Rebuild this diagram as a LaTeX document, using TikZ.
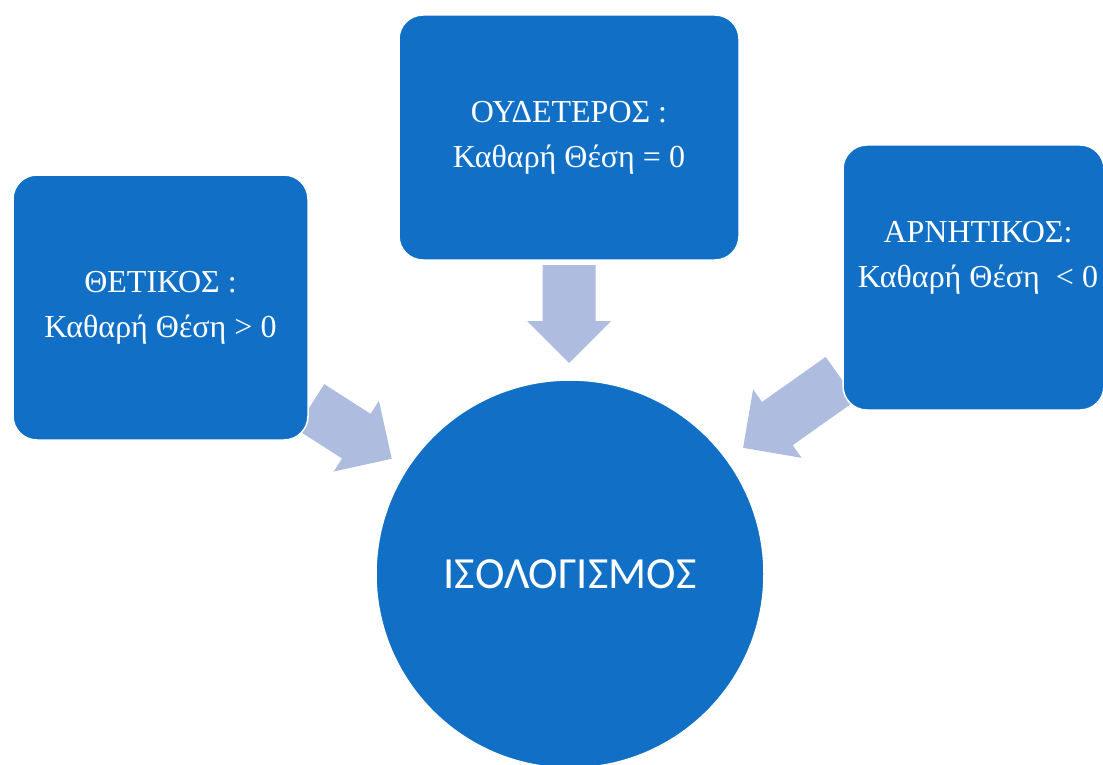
\documentclass[tikz,border=0pt]{standalone}
\usepackage{fontspec}
\setmainfont{Liberation Serif}
\newfontfamily\hubfont{Carlito}
\usepackage{xcolor}
\definecolor{bsBlue}{HTML}{1170C6}
\definecolor{bsTint}{HTML}{AEBCE0}

\begin{document}
\begin{tikzpicture}[x=1pt,y=-1pt]
  \tikzset{
    box/.style={rectangle,rounded corners=24pt,fill=bsBlue,draw=white,line width=1.5pt,text=white,align=center,font=\fontsize{32}{45}\selectfont},
    boxtext/.style={text=white,align=center,font=\fontsize{32}{45}\selectfont},
    hub/.style={circle,fill=bsBlue,draw=white,line width=1.5pt,inner sep=0pt,minimum size=388pt,text=white,font=\hubfont\fontsize{44.5}{50}\selectfont}
  }
  \useasboundingbox (0,0) rectangle (1103,765);
  \clip (0,0) rectangle (1103,765);

  % block arrows, drawn first so that the boxes cover their tails
  \foreach \ax/\ay/\ang/\len in {569/265/-90/98,310/406.5/-32.6/97,841/378.5/-144.7/120}
    {\fill[bsTint,shift={(\ax,\ay)},rotate=\ang] (0,-26.5) -- ({\len-42},-26.5) -- ({\len-42},-42) -- (\len,0) -- ({\len-42},42) -- ({\len-42},26.5) -- (0,26.5) -- cycle;}

  \node[box,minimum width=295pt,minimum height=265pt] (pos) at (160.5,307.5)
    {ΘΕΤΙΚΟΣ :\\Καθαρή Θέση > 0};
  \node[box,minimum width=340pt,minimum height=245pt] (neu) at (569,137.5)
    {ΟΥΔΕΤΕΡΟΣ :\\Καθαρή Θέση = 0};
  \node[box,minimum width=261pt,minimum height=265pt,
    label={[boxtext,xshift=4.5pt,yshift=19.5pt]center:{ΑΡΝΗΤΙΚΟΣ:\\Καθαρή Θέση\ \ < 0}}] (neg) at (973.5,277.5) {};

  \node[hub] (bs) at (570,574) {ΙΣΟΛΟΓΙΣΜΟΣ};
\end{tikzpicture}
\end{document}
